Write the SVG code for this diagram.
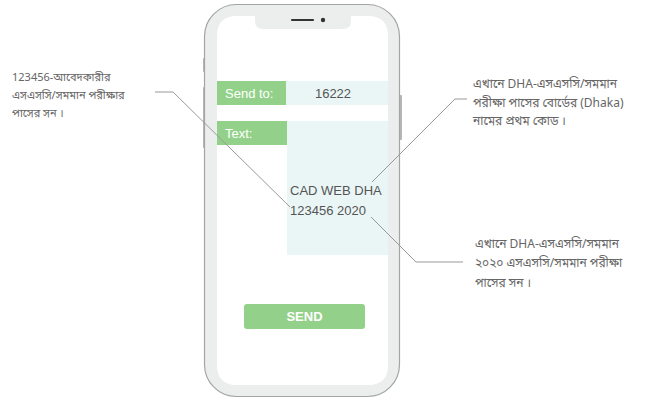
<svg xmlns="http://www.w3.org/2000/svg" width="651" height="401" viewBox="0 0 651 401">
<style>
.note{font-family:"Noto Sans Bengali","Noto Sans","Liberation Sans",sans-serif;font-size:11px;fill:#666666}
.big{font-size:12px}
.ui{font-family:"Liberation Sans",Arial,sans-serif;font-size:13px}
.lbl{fill:#ffffff}
.val{fill:#555555}
.green{fill:#93d18a}
.cell{fill:#eaf6f6}
.conn{fill:none;stroke:#999999;stroke-width:1}
</style>
<rect width="651" height="401" fill="#ffffff"/>
<g id="phone">
<rect x="203" y="58" width="3" height="14" rx="1" fill="#b5b7b6"/>
<rect x="203" y="87" width="3" height="61" rx="1" fill="#b5b7b6"/>
<rect x="399" y="95" width="3" height="45" rx="1" fill="#b5b7b6"/>
<rect x="204.5" y="4.5" width="195" height="392" rx="32" fill="#eceeed" stroke="#a3a5a4" stroke-width="1.2"/>
<path d="M237,16 H255 V21 Q255,29 263,29 H343 Q351,29 351,21 V16 H368 Q388,16 388,36 V365 Q388,385 368,385 H237 Q217,385 217,365 V36 Q217,16 237,16 Z" fill="#ffffff"/>
<line x1="292" y1="20" x2="313" y2="20" stroke="#333" stroke-width="2.2" stroke-linecap="round"/>
<circle cx="323" cy="20" r="2.2" fill="#333"/>
</g>
<g id="send-to">
<rect class="green" x="217" y="81" width="69" height="24"/>
<rect class="cell" x="286" y="81" width="102" height="24"/>
<text class="ui lbl" x="225" y="97.5">Send to:</text>
<text class="ui val" x="333" y="97.5" text-anchor="middle">16222</text>
</g>
<g id="text-field">
<rect class="green" x="217" y="121" width="70" height="24"/>
<rect class="cell" x="287" y="121" width="101" height="134"/>
<text class="ui lbl" x="225" y="138">Text:</text>
<text class="ui val" x="290" y="195">CAD WEB DHA</text>
<text class="ui val" x="290" y="215">123456 2020</text>
</g>
<g id="send-button">
<rect class="green" x="244" y="304" width="121" height="25" rx="3"/>
<text class="ui lbl" x="304.5" y="321" text-anchor="middle" font-weight="bold">SEND</text>
</g>
<g id="connectors">
<polyline class="conn" points="155,92 173,92 290,207"/>
<polyline class="conn" points="372,182 455,99 467,99"/>
<polyline class="conn" points="371,217 416,262 463,262"/>
</g>
<g id="note-left">
<text class="note" x="12" y="81">123456-আবেদকারীর</text>
<text class="note" x="12" y="99">এসএসসি/সমমান পরীক্ষার</text>
<text class="note" x="12" y="117">পাসের সন ।</text>
</g>
<g id="note-right-top">
<text class="note big" x="473" y="88">এখানে DHA-এসএসসি/সমমান</text>
<text class="note big" x="473" y="107">পরীক্ষা পাসের বোর্ডের (Dhaka)</text>
<text class="note big" x="473" y="125">নামের প্রথম কোড ।</text>
</g>
<g id="note-right-bottom">
<text class="note big" x="475" y="248">এখানে DHA-এসএসসি/সমমান</text>
<text class="note big" x="475" y="267">২০২০ এসএসসি/সমমান পরীক্ষা</text>
<text class="note big" x="475" y="287">পাসের সন ।</text>
</g>
</svg>
